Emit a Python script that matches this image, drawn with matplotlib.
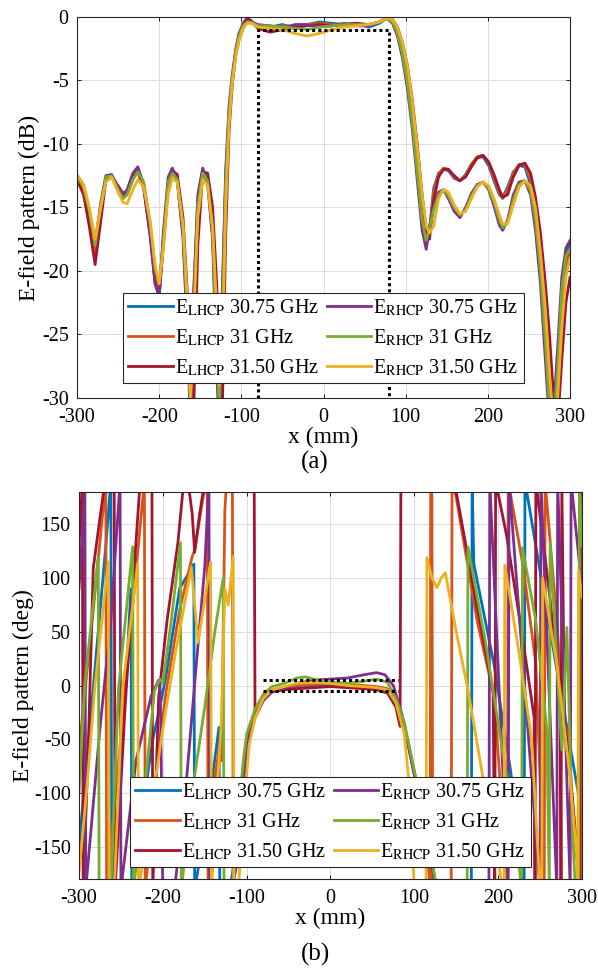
import numpy as np
import matplotlib
matplotlib.use("Agg")
import matplotlib.pyplot as plt

plt.rcParams["font.family"] = ["Liberation Serif", "DejaVu Serif"]
plt.rcParams["mathtext.fontset"] = "stix"
plt.rcParams["axes.unicode_minus"] = False

COLORS = ["#0072BD", "#D95319", "#A2142F", "#7E2F8E", "#77AC30", "#EDB120"]
LABELS = [
    r"E$_{\mathrm{LHCP}}$ 30.75 GHz", r"E$_{\mathrm{LHCP}}$ 31 GHz", r"E$_{\mathrm{LHCP}}$ 31.50 GHz",
    r"E$_{\mathrm{RHCP}}$ 30.75 GHz", r"E$_{\mathrm{RHCP}}$ 31 GHz", r"E$_{\mathrm{RHCP}}$ 31.50 GHz",
]

# ---- panel (a): magnitude, dB (shared x grid) ----
x_mag = [-300, -292, -285, -278, -271, -265, -258, -250, -244, -239,
         -232, -226, -219, -211, -205, -200, -195, -189, -184, -178,
         -171, -166, -162, -158, -153, -147, -141, -135, -130, -127,
         -123, -119, -115, -111, -107, -103, -98, -93, -88, -80,
         -65, -50, -35, -20, -5, 10, 25, 40, 55, 68,
         77, 84, 90, 96, 102, 108, 114, 120, 125, 129,
         134, 140, 146, 152, 159, 166, 173, 180, 187, 194,
         201, 208, 214, 218, 224, 231, 238, 245, 252, 258,
         264, 270, 275, 280, 285, 290, 295, 300]

lhcp_3075_db = [-12.6, -13.5, -15.6, -18.3, -15.0, -12.7, -12.5, -13.4, -14.0, -13.8,
                -12.6, -12.0, -13.2, -16.8, -20.5, -21.8, -17.5, -13.0, -12.0, -12.9,
                -17.0, -23.5, -31.0, -22.0, -14.5, -12.0, -13.0, -17.0, -27.0, -32.0,
                -22.0, -12.5, -7.5, -5.0, -3.0, -1.8, -0.9, -0.4, -0.4, -0.8,
                -0.8, -0.6, -0.9, -0.6, -0.4, -0.5, -0.6, -0.5, -0.8, -0.5,
                -0.1, -0.4, -1.4, -3.0, -5.2, -8.2, -11.8, -15.5, -18.0, -16.8,
                -13.5, -12.3, -12.0, -12.1, -12.7, -12.9, -12.4, -11.6, -11.1, -11.0,
                -11.7, -13.0, -14.0, -14.2, -13.4, -12.2, -11.7, -11.8, -13.2, -15.8,
                -20.0, -25.0, -31.0, -33.0, -29.0, -22.5, -19.0, -17.8]
lhcp_31_db = [-12.7, -13.6, -15.8, -18.6, -15.2, -12.8, -12.5, -13.4, -14.1, -14.0,
              -12.8, -12.1, -13.0, -16.5, -20.0, -21.5, -18.0, -13.3, -12.1, -12.7,
              -16.6, -23.0, -30.5, -23.0, -15.0, -12.2, -12.8, -16.6, -26.0, -31.5,
              -23.0, -13.0, -7.8, -5.0, -3.0, -1.8, -0.9, -0.4, -0.3, -0.7,
              -0.9, -0.7, -0.7, -0.6, -0.5, -0.6, -0.6, -0.5, -0.7, -0.4,
              -0.1, -0.4, -1.4, -2.9, -5.0, -8.0, -11.8, -15.6, -17.8, -16.8,
              -13.8, -12.4, -11.9, -12.0, -12.6, -12.9, -12.5, -11.6, -11.0, -10.9,
              -11.5, -12.8, -13.9, -14.3, -13.6, -12.3, -11.6, -11.6, -12.8, -15.2,
              -19.0, -24.0, -30.0, -33.0, -30.0, -24.0, -19.8, -18.3]
lhcp_315_db = [-12.8, -14.0, -16.5, -19.5, -16.0, -12.9, -12.6, -13.3, -13.9, -13.7,
               -12.5, -12.2, -13.5, -17.2, -21.0, -22.0, -18.0, -13.4, -12.1, -12.4,
               -15.8, -21.5, -29.0, -31.0, -18.0, -12.2, -12.3, -15.0, -21.0, -28.0,
               -30.5, -17.0, -9.0, -5.3, -3.0, -1.5, -0.5, -0.1, -0.3, -0.9,
               -1.2, -1.0, -0.8, -0.7, -0.6, -0.7, -0.6, -0.5, -0.6, -0.4,
               -0.1, -0.2, -0.8, -2.0, -3.8, -6.5, -10.0, -14.0, -16.8, -17.5,
               -14.5, -12.6, -12.0, -12.0, -12.5, -12.9, -12.6, -11.8, -11.1, -10.9,
               -11.4, -12.5, -13.6, -14.2, -14.0, -12.6, -11.7, -11.5, -12.3, -14.2,
               -17.0, -21.0, -25.0, -30.0, -32.0, -27.0, -22.5, -20.5]
rhcp_3075_db = [-12.5, -13.3, -15.2, -17.8, -14.6, -12.5, -12.4, -13.4, -14.0, -13.6,
                -12.3, -11.8, -13.2, -17.2, -21.0, -22.0, -17.0, -12.6, -11.9, -12.9,
                -17.5, -24.5, -32.0, -21.5, -14.0, -11.9, -13.2, -17.5, -28.0, -32.0,
                -21.0, -12.0, -7.0, -4.5, -2.6, -1.3, -0.6, -0.3, -0.4, -0.6,
                -0.7, -0.9, -0.6, -0.6, -0.8, -0.7, -0.5, -0.7, -0.7, -0.4,
                -0.1, -0.5, -1.5, -3.2, -5.6, -8.8, -12.8, -16.8, -18.3, -16.5,
                -15.0, -13.8, -13.6, -14.3, -15.3, -15.8, -15.0, -13.9, -13.2, -13.0,
                -13.6, -15.0, -16.4, -16.8, -16.0, -14.0, -13.0, -12.9, -14.0, -16.8,
                -21.0, -27.0, -32.0, -31.0, -26.0, -20.5, -18.2, -17.6]
rhcp_31_db = [-12.6, -13.4, -15.3, -18.0, -14.8, -12.6, -12.5, -13.6, -14.3, -14.0,
              -12.8, -12.2, -13.0, -16.3, -19.8, -21.0, -17.8, -13.0, -12.3, -12.8,
              -16.8, -23.0, -31.0, -23.0, -14.8, -12.3, -12.9, -16.8, -26.0, -31.0,
              -23.0, -13.0, -7.5, -4.8, -2.8, -1.5, -0.7, -0.4, -0.4, -0.7,
              -0.7, -0.8, -0.9, -1.0, -0.8, -0.7, -0.6, -0.6, -0.6, -0.4,
              -0.1, -0.4, -1.3, -2.9, -5.2, -8.3, -12.2, -16.0, -17.6, -16.7,
              -15.2, -14.0, -13.6, -14.1, -15.0, -15.6, -15.2, -14.1, -13.3, -13.0,
              -13.5, -14.7, -16.0, -16.6, -16.2, -14.4, -13.2, -12.9, -13.7, -16.0,
              -20.0, -25.5, -31.0, -32.0, -27.5, -21.5, -18.8, -18.3]
rhcp_315_db = [-12.4, -13.2, -15.0, -17.5, -15.0, -13.0, -12.6, -13.8, -14.6, -14.7,
               -13.6, -12.8, -13.4, -16.0, -19.5, -21.0, -18.3, -13.9, -12.7, -13.0,
               -16.3, -22.0, -30.0, -24.0, -15.8, -12.8, -13.3, -16.5, -23.0, -29.0,
               -26.0, -15.0, -8.5, -5.2, -3.2, -1.9, -0.9, -0.5, -0.5, -0.8,
               -0.9, -1.0, -1.3, -1.5, -1.3, -1.0, -0.8, -0.7, -0.6, -0.4,
               -0.1, -0.2, -0.8, -2.0, -3.8, -6.6, -10.2, -14.0, -16.5, -17.0,
               -16.5, -14.3, -13.6, -13.8, -14.8, -15.5, -15.3, -14.3, -13.4, -13.0,
               -13.3, -14.4, -15.6, -16.3, -16.3, -14.8, -13.4, -12.9, -13.3, -15.0,
               -18.5, -23.0, -28.0, -32.0, -30.0, -24.5, -20.5, -19.0]

# ---- panel (b): phase, deg (wrapped, each series has its own samples) ----
lhcp_3075_ph = [(-300, -150), (-285, -20), (-268, 130), (-262, 190), (-261, -190), (-250, -80),
                (-238, 90), (-237, -190), (-225, -120), (-212, -50), (-205, -26), (-196, 10),
                (-180, 90), (-163, 113), (-162, -190), (-145, -110), (-133, -39), (-132, -190),
                (-120, -190), (-112, -150), (-105, -80), (-100, -50), (-90, -25), (-80, -10),
                (-70, -4), (-55, -3), (-40, -1), (-20, 0), (0, 1), (20, 0), (40, -1), (55, -2),
                (68, -4), (78, -15), (88, -38), (98, -75), (110, -120), (120, -160), (127, -190),
                (168, -190), (169, 190), (171, 113), (195, 20), (215, -80), (231, -190),
                (232, 190), (260, 60), (280, -30), (300, -120)]
lhcp_31_ph = [(-300, -60), (-283, 70), (-268, 190), (-267, -190), (-255, -90), (-240, 40),
              (-222, 190), (-221, -190), (-205, -60), (-196, -5), (-180, 70), (-165, 120),
              (-162, 126), (-152, 175), (-147, 190), (-146, -190), (-137, -80), (-132, -55),
              (-130, -70), (-126, 163), (-124, 190), (-117, 190), (-116, -190), (-112, -155),
              (-105, -82), (-100, -52), (-90, -26), (-80, -11), (-70, -4), (-55, -2), (-40, 0),
              (-20, 1), (0, 2), (20, 1), (40, 0), (55, -1), (68, -3), (78, -13), (88, -36),
              (98, -72), (110, -118), (118, -180), (119, -190), (119.5, 190), (121, 175),
              (122, -190), (144, -190), (145, 190), (150, 175), (175, 60), (195, -10),
              (210, -170), (211, -190), (212, 190), (230, 110), (245, 20), (255, -190),
              (256, 190), (270, 60), (280, -51), (283, -40), (292, -150), (299, -190), (300, 190)]
lhcp_315_ph = [(-300, 130), (-296, 190), (-295, -190), (-289, -60), (-283, 109), (-276, 150),
               (-269, 190), (-258, 190), (-257, -190), (-245, -20), (-235, 100), (-227, 190),
               (-213, 190), (-212, -190), (-205, -11), (-195, 60), (-182, 133), (-175, 190),
               (-170, 190), (-165, 160), (-162, 124), (-156, 160), (-150, 190), (-91, 190),
               (-90, -28), (-80, -13), (-70, -6), (-55, -4), (-40, -3), (-20, -2), (0, -1),
               (20, -2), (40, -3), (55, -4), (68, -7), (78, -20), (83, -38), (84, 190),
               (148, 190), (150, 180), (172, 85), (194, -5), (196, -190), (197, 190),
               (210, 140), (230, 40), (243, -30), (244, -190), (245, 190), (262, 80),
               (274, -10), (275, -190), (276, 190), (279, -30), (281, -45), (288, -100),
               (295, -160), (297, -190), (298, 190), (300, 170)]
rhcp_3075_ph = [(-300, 90), (-294, 170), (-293, 190), (-292, -190), (-275, -40), (-262, 60),
                (-251, 190), (-250, -190), (-232, -70), (-214, -10), (-205, 5), (-203, -5),
                (-200, -190), (-186, -190), (-172, -90), (-160, 20), (-150, 110), (-145, 190),
                (-144, -190), (-118, -190), (-110, -160), (-100, -55), (-90, -30), (-80, -14),
                (-70, -6), (-55, -2), (-40, 2), (-20, 5), (0, 6), (20, 7), (40, 10), (55, 12),
                (65, 10), (75, 0), (85, -26), (98, -76), (110, -122), (120, -162), (126, -190),
                (189, -190), (190, 190), (212, -190), (213, 190), (250, -190), (251, 190),
                (270, -190), (271, 190), (286, -190), (287, 190), (300, 90)]
rhcp_31_ph = [(-300, -100), (-293, 2), (-277, 120), (-276, -190), (-262, -190), (-253, -4),
              (-236, 129), (-235, -190), (-222, -100), (-210, -5), (-206, 2), (-203, 6),
              (-200, 2), (-190, 60), (-179, 133), (-178, -190), (-165, -100), (-150, -20),
              (-138, 50), (-128, 100), (-127, -190), (-118, -190), (-112, -150), (-104, -70),
              (-100, -45), (-90, -22), (-80, -8), (-70, -1), (-55, 2), (-40, 7), (-30, 8),
              (-20, 6), (0, 3), (20, 2), (40, 4), (55, 6), (68, 3), (78, -12), (88, -34),
              (98, -72), (110, -118), (120, -158), (127, -190), (163, -190), (164, 129),
              (185, 40), (205, -60), (220, -130), (228, -190), (229, 128), (245, 60),
              (258, -40), (261, -190), (262, 133), (276, -60), (282, 54), (288, -120),
              (292, -190), (296, -190), (297, 190), (300, 130)]
rhcp_315_ph = [(-300, -175), (-290, -90), (-281, 0), (-265, 115), (-264, -190), (-258, -190),
               (-248, -3), (-230, 113), (-229, -190), (-215, -120), (-200, -40), (-185, 30),
               (-166, 110), (-158, 40), (-143, 115), (-142, -190), (-130, -30), (-126, 90),
               (-122, 75), (-116, 120), (-115, -190), (-110, -190), (-103, -110), (-97, -55),
               (-90, -30), (-80, -12), (-70, -4), (-55, -1), (-40, 2), (-20, 3), (0, 2),
               (20, 0), (40, -1), (55, -2), (68, -4), (78, -16), (88, -45), (95, -100),
               (100, -190), (114, -190), (115, 119), (121, 100), (127, 91), (132, 100),
               (137, 105), (150, 50), (164, -4), (185, -100), (200, -160), (205, -190),
               (207, -190), (208, 112), (225, 30), (240, -50), (250, -190), (252, -190),
               (253, 100), (270, 20), (285, -80), (294, -160), (295, -190), (296, 107),
               (300, 82)]

MAG = [lhcp_3075_db, lhcp_31_db, lhcp_315_db, rhcp_3075_db, rhcp_31_db, rhcp_315_db]
PHASE = [lhcp_3075_ph, lhcp_31_ph, lhcp_315_ph, rhcp_3075_ph, rhcp_31_ph, rhcp_315_ph]


def style_axes(ax):
    ax.grid(True, color="#dcdcdc", linewidth=0.7)
    ax.set_axisbelow(True)
    ax.tick_params(direction="in", top=True, right=True, labelsize=14.5,
                   length=3, width=0.6)
    ax.tick_params(axis="x", pad=7)
    ax.tick_params(axis="y", pad=6)
    for s in ax.spines.values():
        s.set_linewidth(0.8)
        s.set_color("#262626")


def add_legend(ax, y0):
    leg = ax.legend(ncol=2, loc="lower center", bbox_to_anchor=(0.5, y0),
                    fontsize=14.5, frameon=True, fancybox=False,
                    edgecolor="#262626", framealpha=1, handlelength=2.2,
                    handletextpad=0.1, columnspacing=0.4, labelspacing=0.45,
                    borderpad=0.25, borderaxespad=0)
    leg.get_frame().set_linewidth(0.8)


fig = plt.figure(figsize=(5.98, 9.73), dpi=100)

# panel (a)
ax1 = fig.add_axes([0.1288, 0.5910, 0.8244, 0.3916])
for y, c, lab in zip(MAG, COLORS, LABELS):
    ax1.plot(x_mag, y, color=c, lw=2, label=lab)
ax1.plot([-80, -80, 80, 80], [-30, -1, -1, -30], color="black", lw=2.2,
         linestyle=(0, (1, 1)))
ax1.set_xlim(-300, 300)
ax1.set_ylim(-30, 0)
ax1.set_xticks(range(-300, 301, 100))
ax1.set_yticks(range(-30, 1, 5))
ax1.set_xlabel("x (mm)", fontsize=17, labelpad=0)
ax1.set_ylabel("E-field pattern (dB)", fontsize=17, labelpad=1)
style_axes(ax1)
add_legend(ax1, 0.039)

# panel (b)
ax2 = fig.add_axes([0.1321, 0.0966, 0.8411, 0.3977])
for pts, c, lab in zip(PHASE, COLORS, LABELS):
    p = np.array(pts, dtype=float)
    ax2.plot(p[:, 0], p[:, 1], color=c, lw=2, label=lab)
for yy in (5, -5):
    ax2.plot([-80, 80], [yy, yy], color="black", lw=2.2, linestyle=(0, (1, 1)))
ax2.set_xlim(-300, 300)
ax2.set_ylim(-180, 180)
ax2.set_xticks(range(-300, 301, 100))
ax2.set_yticks(range(-150, 151, 50))
ax2.set_xlabel("x (mm)", fontsize=17, labelpad=0)
ax2.set_ylabel("E-field pattern (deg)", fontsize=17, labelpad=0)
style_axes(ax2)
add_legend(ax2, 0.031)

fig.text(0.527, 0.525, "(a)", ha="center", va="center", fontsize=18)
fig.text(0.527, 0.019, "(b)", ha="center", va="center", fontsize=18)

fig.savefig("out.png", dpi=100)
plt.close(fig)
